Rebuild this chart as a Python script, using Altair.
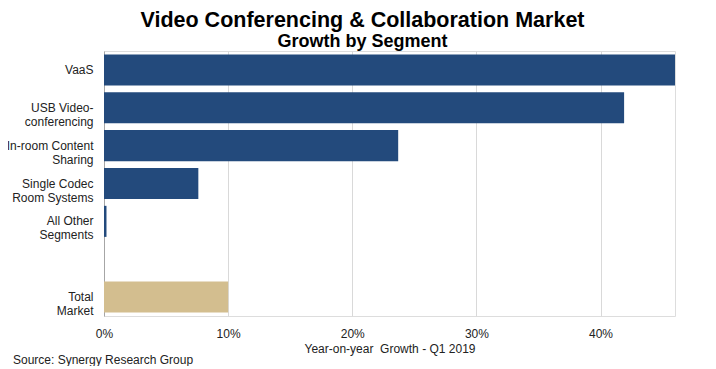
import altair as alt
import pandas as pd

segments = ["VaaS", "USB Video-|conferencing", "In-room Content|Sharing",
            "Single Codec|Room Systems", "All Other|Segments", "Total|Market"]
growth = [0.46, 0.419, 0.237, 0.076, 0.002, 0.100]
kind = ["Segment", "Segment", "Segment", "Segment", "Segment", "Total"]
spacer = " "
y_order = segments[:5] + [spacer] + segments[5:]
x_ticks = [0, 0.1, 0.2, 0.3, 0.4]
source_note = "Source: Synergy Research Group"

df = pd.DataFrame({"segment": segments, "growth": growth, "kind": kind})

FONT = "Liberation Sans"
W = 571
H = 265

bars = alt.Chart(df).mark_bar().encode(
    x=alt.X("growth:Q",
            scale=alt.Scale(domain=[0, 0.46], nice=False, zero=True),
            axis=alt.Axis(values=x_ticks, format=".0%",
                          title="Year-on-year\u00a0 Growth - Q1 2019",
                          domain=False, ticks=False, grid=True, gridColor="#d9d9d9",
                          labelFlush=False,
                          labelFont=FONT, labelFontSize=12, labelColor="#222222",
                          labelPadding=12, titleFont=FONT, titleFontSize=12,
                          titleFontWeight="normal", titleColor="#222222", titlePadding=4)),
    y=alt.Y("segment:N",
            scale=alt.Scale(domain=y_order, paddingInner=0.18, paddingOuter=0.09),
            axis=alt.Axis(title=None, ticks=False, domain=True, domainColor="#a6a6a6",
                          grid=False, labelFont=FONT, labelFontSize=12, labelColor="#222222",
                          labelPadding=11, labelLineHeight=14, labelLimit=200,
                          labelExpr="split(datum.label, '|')")),
    color=alt.Color("kind:N",
                    scale=alt.Scale(domain=["Segment", "Total"], range=["#234A7C", "#D3BE8F"]),
                    legend=None),
)

note = alt.Chart(pd.DataFrame({"t": [source_note]})).mark_text(
    align="left", baseline="alphabetic", font=FONT, fontSize=12, color="#222222"
).encode(text="t:N", x=alt.value(-91), y=alt.value(H + 48))

chart = alt.layer(bars, note).properties(
    width=W, height=H,
    padding={"left": -2, "top": 1, "right": 5, "bottom": 0},
    title=alt.TitleParams(
        text="Video Conferencing & Collaboration Market",
        subtitle="Growth by Segment",
        font=FONT, fontSize=21.5, fontWeight="bold", color="#000000",
        subtitleFont=FONT, subtitleFontSize=18, subtitleFontWeight="bold",
        subtitleColor="#000000", subtitlePadding=2,
        anchor="middle", frame="group", dx=-27, offset=0),
).configure_view(stroke=None).configure(background="white")

chart.save("out.html", embed_options={"renderer": "svg", "actions": False})
